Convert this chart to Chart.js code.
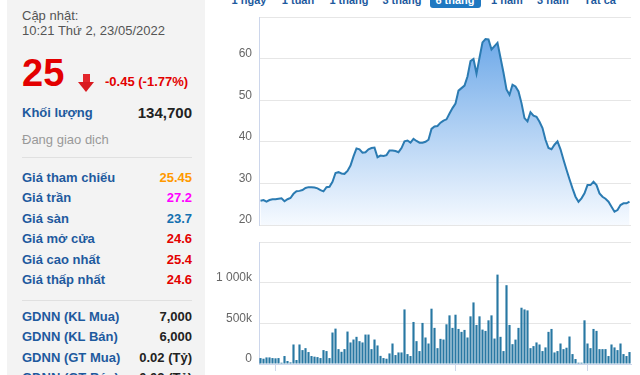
<!DOCTYPE html>
<html>
<head>
<meta charset="utf-8">
<script src="https://cdn.jsdelivr.net/npm/chart.js@4"></script>
<style>
  html, body { margin: 0; padding: 0; background: #fff; }
  body { width: 640px; height: 375px; overflow: hidden; position: relative; font-family: "Liberation Sans", Arial, sans-serif; }
  .panel { position: absolute; left: 7px; top: 0; width: 198px; height: 375px; background: #f3f3f3; }
  .t { position: absolute; white-space: nowrap; }
  .row { position: absolute; left: 22px; width: 170px; height: 20px; line-height: 20px; display: flex; justify-content: space-between; font-size: 13px; font-weight: bold; }
  .row .l { color: #1e5a9e; }
  .sep { position: absolute; left: 22px; width: 170px; height: 1px; background: #e0e0e0; }
  .btn { position: absolute; top: -7px; height: 14px; line-height: 14px; font-size: 11px; font-weight: bold; color: #1e5a9e; white-space: nowrap; transform: translateX(-50%); }
  .btn.on { color: #fff; }
  .onbg { position: absolute; left: 430px; top: -10px; width: 51px; height: 18px; background: #1f78c1; border-radius: 3px; }
  canvas { position: absolute; left: 210px; }
</style>
</head>
<body>
<div class="panel"></div>
<div class="t" style="left:22px;top:8px;font-size:13px;color:#555;">Cập nhật:</div>
<div class="t" style="left:22px;top:23px;font-size:13px;color:#555;">10:21 Thứ 2, 23/05/2022</div>
<div class="t" style="left:22px;top:51px;font-size:38px;font-weight:bold;color:#e30000;line-height:44px;">25</div>
<div style="position:absolute;left:83px;top:74px;width:7px;height:8px;background:#e3262b;"></div>
<div style="position:absolute;left:78px;top:82px;width:0;height:0;border-left:8.5px solid transparent;border-right:8.5px solid transparent;border-top:10px solid #d9191f;"></div>
<div class="t" style="left:105px;top:74px;font-size:13px;font-weight:bold;color:#e30000;">-0.45 (-1.77%)</div>
<div class="row" style="top:103px;"><span class="l">Khối lượng</span><span style="color:#222;font-size:15px;">134,700</span></div>
<div class="t" style="left:22px;top:132px;font-size:13px;color:#999;">Đang giao dịch</div>
<div class="sep" style="top:157px;"></div>
<div class="row" style="top:168px;"><span class="l">Giá tham chiếu</span><span style="color:#f90;">25.45</span></div>
<div class="row" style="top:188px;"><span class="l">Giá trần</span><span style="color:#f0f;">27.2</span></div>
<div class="row" style="top:209px;"><span class="l">Giá sàn</span><span style="color:#1470b0;">23.7</span></div>
<div class="row" style="top:229px;"><span class="l">Giá mở cửa</span><span style="color:#e30000;">24.6</span></div>
<div class="row" style="top:250px;"><span class="l">Giá cao nhất</span><span style="color:#e30000;">25.4</span></div>
<div class="row" style="top:270px;"><span class="l">Giá thấp nhất</span><span style="color:#e30000;">24.6</span></div>
<div class="sep" style="top:300px;"></div>
<div class="row" style="top:307px;"><span class="l">GDNN (KL Mua)</span><span style="color:#222;">7,000</span></div>
<div class="row" style="top:327px;"><span class="l">GDNN (KL Bán)</span><span style="color:#222;">6,000</span></div>
<div class="row" style="top:348px;"><span class="l">GDNN (GT Mua)</span><span style="color:#222;">0.02 (Tỷ)</span></div>
<div class="row" style="top:368px;"><span class="l">GDNN (GT Bán)</span><span style="color:#222;">0.02 (Tỷ)</span></div>

<div class="onbg"></div>
<div class="btn" style="left:249px;">1 ngày</div>
<div class="btn" style="left:298px;">1 tuần</div>
<div class="btn" style="left:349px;">1 tháng</div>
<div class="btn" style="left:402px;">3 tháng</div>
<div class="btn on" style="left:455px;">6 tháng</div>
<div class="btn" style="left:507px;">1 năm</div>
<div class="btn" style="left:553px;">3 năm</div>
<div class="btn" style="left:600px;">Tất cả</div>

<canvas id="priceChart" width="430" height="233" style="top:0;"></canvas>
<canvas id="volChart" width="430" height="160" style="top:233px;"></canvas>

<script>
// giá đóng cửa (nghìn đồng), 6 tháng
const prices = [
  25.85, 26.0, 25.6, 26.0, 26.2, 26.2, 26.3, 26.4, 25.7, 26.2,
  26.5, 27.5, 28.1, 28.2, 28.4, 28.9, 29.1, 29.1, 29.0, 28.8,
  28.4, 28.1, 29.1, 29.2, 30.4, 32.5, 32.7, 32.4, 32.3, 33.0,
  34.3, 36.5, 38.4, 38.2, 37.4, 37.5, 38.2, 38.5, 38.6, 36.3,
  36.7, 36.6, 36.8, 37.9, 37.9, 37.8, 37.5, 38.5, 40.1, 40.3,
  39.8, 40.7, 40.2, 39.8, 39.8, 40.0, 40.5, 43.1, 43.7, 43.8,
  44.6, 45.1, 45.4, 46.8, 48.1, 49.2, 52.3, 52.9, 53.5, 55.7,
  59.4, 59.9, 56.4, 60.2, 63.9, 64.7, 64.6, 62.2, 63.0, 63.8,
  60.2, 56.6, 52.6, 51.3, 53.7, 53.3, 52.1, 49.3, 45.7, 44.9,
  47.1, 46.3, 46.0, 44.8, 43.3, 40.5, 38.5, 38.2, 39.3, 40.1,
  38.2, 35.7, 33.3, 31.0, 28.8, 26.8, 25.6, 26.4, 27.6, 29.6,
  29.6, 30.4, 29.6, 27.6, 26.8, 26.3, 25.6, 24.4, 23.2, 23.6,
  24.8, 25.2, 25.2, 25.6
];

// khối lượng (nghìn cp)
const volumes = [
  73, 65, 81, 81, 73, 70, 73, 16, 98, 37,
  20, 240, 49, 240, 171, 195, 147, 98, 90, 85,
  73, 171, 159, 73, 387, 435, 183, 150, 183, 399,
  265, 301, 334, 281, 265, 362, 362, 183, 301, 228,
  100, 73, 65, 130, 252, 110, 142, 142, 671, 122,
  98, 517, 281, 159, 505, 326, 252, 680, 444, 195,
  309, 301, 488, 598, 444, 606, 431, 395, 419, 326,
  586, 757, 480, 586, 423, 407, 537, 598, 313, 1099,
  334, 159, 969, 480, 244, 300, 444, 692, 671, 659,
  195, 220, 265, 240, 159, 204, 395, 431, 142, 159,
  252, 183, 200, 338, 122, 61, 16, 16, 537, 252,
  195, 431, 407, 183, 183, 183, 98, 240, 204, 171,
  252, 122, 98, 147
];

// nhãn trục x (chỉ hiện ở đầu tháng)
const tickIndex = [5, 65, 109];
const tickLabels = ['12/21', '03/22', '05/22'];

const priceTicks = [20, 30, 40, 50, 60, 70];
const volTicks = [0, 500, 1000, 1500];

const labels = [];
for (let i = 0; i < prices.length; i++) {
    labels.push(String(i));
}

const axisFont = { family: "'Liberation Sans', Arial, sans-serif", size: 12 };
const gridColor = '#e6e6e6';
const axisColor = '#ccd6eb';

// trục y: cố định bề rộng, bỏ phần đệm nhãn để vùng vẽ đúng vị trí
const fixY = (s) => {
    s.width = 49;
    s.paddingTop = 0;
    s.paddingBottom = 0;
};

const priceChart = new Chart(document.getElementById('priceChart'), {
    type: 'line',
    data: {
        labels: labels,
        datasets: [{
            data: prices,
            borderColor: '#2b7bb2',
            borderWidth: 2,
            pointRadius: 0,
            tension: 0,
            fill: 'start',
            backgroundColor: (ctx) => {
                const area = ctx.chart.chartArea;
                if (!area) return 'rgba(100,165,230,0.5)';
                const g = ctx.chart.ctx.createLinearGradient(0, area.top, 0, area.bottom);
                g.addColorStop(0, 'rgb(95,160,230)');
                g.addColorStop(1, 'rgb(246,250,255)');
                return g;
            },
        }],
    },
    options: {
        responsive: false,
        animation: false,
        layout: { padding: { top: 17, right: 9, bottom: 8, left: 0 } },
        plugins: { legend: false, tooltip: false },
        scales: {
            x: { display: false, offset: true },
            y: {
                min: priceTicks[0],
                max: priceTicks[priceTicks.length - 1],
                afterFit: fixY,
                afterBuildTicks: (s) => { s.ticks = priceTicks.map(v => ({ value: v })); },
                grid: { color: gridColor, drawTicks: false },
                border: { color: axisColor },
                ticks: {
                    color: '#666',
                    font: axisFont,
                    padding: 7,
                    labelOffset: -5,
                    callback: (v) => v === 70 ? '' : v,
                },
            },
        },
    },
});

const volChart = new Chart(document.getElementById('volChart'), {
    type: 'bar',
    data: {
        labels: labels,
        datasets: [{
            data: volumes,
            backgroundColor: '#2878a3',
            barPercentage: 0.72,
            categoryPercentage: 1.0,
        }],
    },
    options: {
        responsive: false,
        animation: false,
        layout: { padding: { top: 9, right: 9, bottom: 0, left: 0 } },
        plugins: { legend: false, tooltip: false },
        scales: {
            x: {
                offset: true,
                afterFit: (s) => { s.height = 29; },
                grid: {
                    offset: false,
                    drawOnChartArea: false,
                    tickLength: 7,
                    tickColor: (ctx) => tickIndex.includes(ctx.index) ? axisColor : 'rgba(0,0,0,0)',
                },
                border: { color: axisColor },
                ticks: {
                    autoSkip: false,
                    maxRotation: 0,
                    padding: 2,
                    color: '#666',
                    font: { family: "'Liberation Sans', Arial, sans-serif", size: 11 },
                    callback: (v, i) => {
                        const k = tickIndex.indexOf(i);
                        return k >= 0 ? tickLabels[k] : '';
                    },
                },
            },
            y: {
                min: 0,
                max: 1500,
                afterFit: fixY,
                afterBuildTicks: (s) => { s.ticks = volTicks.map(v => ({ value: v })); },
                grid: { color: gridColor, drawTicks: false },
                border: { color: axisColor },
                ticks: {
                    color: '#666',
                    font: axisFont,
                    padding: 7,
                    labelOffset: -5,
                    callback: (v) => {
                        if (v === 1500) return '';
                        if (v === 0) return '0';
                        return String(v).replace(/\B(?=(\d{3})+(?!\d))/g, ' ') + 'k';
                    },
                },
            },
        },
    },
});
</script>
</body>
</html>
